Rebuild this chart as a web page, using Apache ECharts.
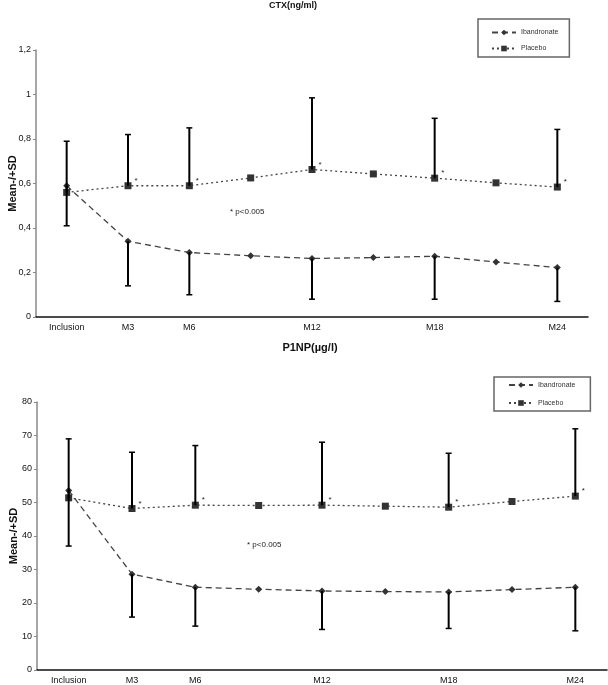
<!DOCTYPE html>
<html>
<head>
<meta charset="utf-8">
<script src="https://cdn.jsdelivr.net/npm/echarts@6/dist/echarts.min.js"></script>
<style>
html,body{margin:0;padding:0;background:#fff;}
#chart{width:608px;height:685px;}
</style>
</head>
<body>
<div id="chart"></div>
<script>
// ---- data ----
const categories = ['Inclusion', 'M3', 'M6', 'M9', 'M12', 'M15', 'M18', 'M21', 'M24'];
const shownLabels = ['Inclusion', 'M3', 'M6', 'M12', 'M18', 'M24'];
const starPoints = ['M3', 'M6', 'M12', 'M18', 'M24'];
const seriesNames = ['Ibandronate', 'Placebo'];

// CTX (ng/ml)
const ctxIband = [0.59, 0.34, 0.29, 0.275, 0.263, 0.267, 0.273, 0.247, 0.222];
const ctxPlacebo = [0.56, 0.59, 0.59, 0.625, 0.663, 0.643, 0.624, 0.603, 0.584];
const ctxPlaceboUpper = [0.79, 0.82, 0.85, null, 0.985, null, 0.893, null, 0.843];
const ctxIbandLower = [0.41, 0.14, 0.10, null, 0.08, null, 0.08, null, 0.07];

// P1NP (µg/l)
const p1npIband = [53.6, 28.6, 24.7, 24.1, 23.6, 23.4, 23.3, 24.0, 24.7];
const p1npPlacebo = [51.4, 48.2, 49.2, 49.1, 49.2, 48.9, 48.6, 50.3, 51.9];
const p1npPlaceboUpper = [69, 65, 67, null, 68, null, 64.7, null, 72];
const p1npIbandLower = [37, 15.8, 13.1, null, 12.1, null, 12.4, null, 11.7];

// ---- chart ----
const FONT = 'Liberation Sans';
const chart = echarts.init(document.getElementById('chart'));

function errRender(params, api) {
  const x = api.value(0), m = api.value(1), b = api.value(2);
  const p1 = api.coord([x, m]);
  const p2 = api.coord([x, b]);
  return {
    type: 'group',
    children: [
      { type: 'line', shape: { x1: p1[0], y1: p1[1], x2: p2[0], y2: p2[1] }, style: { stroke: '#000', lineWidth: 2 } },
      { type: 'line', shape: { x1: p2[0] - 3, y1: p2[1], x2: p2[0] + 3, y2: p2[1] }, style: { stroke: '#000', lineWidth: 1.5 } }
    ]
  };
}
function errData(mean, bound) {
  return categories.map((c, i) => bound[i] == null ? null : [i, mean[i], bound[i]]).filter(Boolean);
}
function placeboData(vals) {
  return vals.map((v, i) => ({
    value: v,
    label: starPoints.indexOf(categories[i]) >= 0 ? {
      show: true, formatter: '*', position: 'right', distance: 3, offset: [0, -5],
      fontSize: 8, color: '#222', fontFamily: FONT
    } : { show: false }
  }));
}
function xAxis(gi) {
  return {
    type: 'category', gridIndex: gi, data: categories, boundaryGap: true,
    axisLine: { lineStyle: { color: '#111', width: 1.5 } },
    axisTick: { show: false },
    axisLabel: {
      interval: 0, margin: 6, fontSize: 9, color: '#111', fontFamily: FONT,
      formatter: v => shownLabels.indexOf(v) >= 0 ? v : ''
    },
    splitLine: { show: false }
  };
}
function yAxis(gi, max, interval, fmt) {
  return {
    type: 'value', gridIndex: gi, min: 0, max: max, interval: interval,
    name: 'Mean-/+SD', nameLocation: 'middle', nameGap: 18, nameMoveOverlap: false,
    nameTextStyle: { fontSize: 11, fontWeight: 'bold', color: '#111', fontFamily: FONT },
    axisLine: { show: true, lineStyle: { color: '#888', width: 1.5 } },
    axisTick: { show: true, length: 3, lineStyle: { color: '#888' } },
    axisLabel: { fontSize: 9, color: '#111', margin: 5, fontFamily: FONT, formatter: fmt },
    splitLine: { show: false }
  };
}
const ibandStyle = {
  type: 'line', symbol: 'diamond', symbolSize: 7,
  itemStyle: { color: '#333' },
  lineStyle: { color: '#444', width: 1.3, type: [6, 4] }
};
const placeboStyle = {
  type: 'line', symbol: 'rect', symbolSize: 7,
  itemStyle: { color: '#333' },
  lineStyle: { color: '#444', width: 1.3, type: [2, 3] }
};
function legendCfg(left, top, padding, gap) {
  return {
    data: seriesNames, orient: 'vertical', left: left, top: top,
    padding: padding, itemGap: gap, itemWidth: 24, itemHeight: 7,
    borderColor: '#666', borderWidth: 1.5,
    textStyle: { fontSize: 7, color: '#333', fontFamily: FONT },
    selectedMode: false
  };
}

const option = {
  animation: false,
  backgroundColor: '#fff',
  textStyle: { fontFamily: FONT },
  grid: [
    { left: 36, right: 20, top: 50, bottom: 368, containLabel: false, outerBoundsMode: 'none' },
    { left: 37, right: 1, top: 402, bottom: 15, containLabel: false, outerBoundsMode: 'none' }
  ],
  legend: [
    legendCfg(478, 19, [10, 11, 5, 13], 9),
    legendCfg(494, 377, [4.5, 15, 4.5, 14], 11)
  ],
  xAxis: [xAxis(0), xAxis(1)],
  yAxis: [
    yAxis(0, 1.2, 0.2, v => String(Math.round(v * 10) / 10).replace('.', ',')),
    yAxis(1, 80, 10, v => String(v))
  ],
  series: [
    Object.assign({ name: 'Ibandronate', xAxisIndex: 0, yAxisIndex: 0, data: ctxIband, z: 3 }, ibandStyle),
    Object.assign({ name: 'Placebo', xAxisIndex: 0, yAxisIndex: 0, data: placeboData(ctxPlacebo), z: 3 }, placeboStyle),
    { type: 'custom', xAxisIndex: 0, yAxisIndex: 0, renderItem: errRender, data: errData(ctxPlacebo, ctxPlaceboUpper), z: 4 },
    { type: 'custom', xAxisIndex: 0, yAxisIndex: 0, renderItem: errRender, data: errData(ctxIband, ctxIbandLower), z: 4 },
    Object.assign({ name: 'Ibandronate', xAxisIndex: 1, yAxisIndex: 1, data: p1npIband, z: 3 }, ibandStyle),
    Object.assign({ name: 'Placebo', xAxisIndex: 1, yAxisIndex: 1, data: placeboData(p1npPlacebo), z: 3 }, placeboStyle),
    { type: 'custom', xAxisIndex: 1, yAxisIndex: 1, renderItem: errRender, data: errData(p1npPlacebo, p1npPlaceboUpper), z: 4 },
    { type: 'custom', xAxisIndex: 1, yAxisIndex: 1, renderItem: errRender, data: errData(p1npIband, p1npIbandLower), z: 4 }
  ],
  graphic: [
    { type: 'text', x: 293, y: 1, style: { text: 'CTX(ng/ml)', font: 'bold 9px "Liberation Sans"', fill: '#111', textAlign: 'center', textVerticalAlign: 'top' } },
    { type: 'text', x: 310, y: 342, style: { text: 'P1NP(µg/l)', font: 'bold 11px "Liberation Sans"', fill: '#111', textAlign: 'center', textVerticalAlign: 'top' } },
    { type: 'text', x: 230, y: 208, style: { text: '* p<0.005', font: '8px "Liberation Sans"', fill: '#222', textVerticalAlign: 'top' } },
    { type: 'text', x: 247, y: 541, style: { text: '* p<0.005', font: '8px "Liberation Sans"', fill: '#222', textVerticalAlign: 'top' } }
  ]
};
chart.setOption(option);
</script>
</body>
</html>
